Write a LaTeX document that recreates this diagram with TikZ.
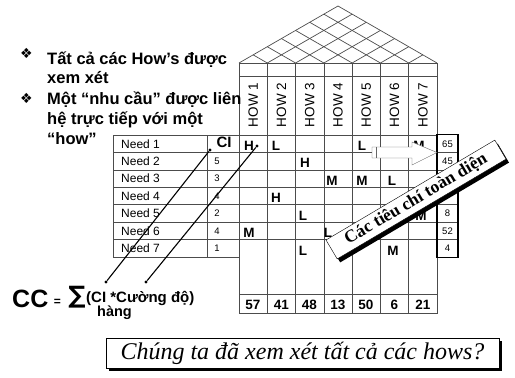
\documentclass[tikz,border=0pt]{standalone}
\usepackage{fontspec}
\setmainfont{Liberation Serif}
\setsansfont{Liberation Sans}
\newfontfamily\symfont{DejaVu Sans}
\usetikzlibrary{positioning}

\begin{document}
\begin{tikzpicture}[x = 1pt, y = -1pt,
grid/.style = {draw = black!70, line width = 0.7pt},
needtxt/.style = {font = \sffamily\fontsize{12}{12}\selectfont, anchor = west, inner sep = 0pt},
rel/.style = {font = \sffamily\bfseries\fontsize{13.5}{13.5}\selectfont, inner sep = 0pt},
howtxt/.style = {font = \sffamily\fontsize{13.5}{13.5}\selectfont, rotate = 90, inner sep = 0pt},
smallnum/.style = {font = \sffamily\fontsize{9.5}{9.5}\selectfont, inner sep = 0pt},
bultxt/.style = {font = \sffamily\bfseries\fontsize{16.5}{16.5}\selectfont, anchor = base west, inner sep = 0pt},
bulsym/.style = {font = \symfont\fontsize{14}{14}\selectfont, inner sep = 0pt},
frm/.style = {font = \sffamily\bfseries\fontsize{15}{15}\selectfont, inner sep = 0pt, anchor = base west},
dot/.style = {circle, fill = black, inner sep = 0pt, minimum size = 3.2pt}]
\useasboundingbox (0,0) rectangle (515,378);
\draw[grid] (239,63) -- (338,6) -- (437,63);
\foreach \i in {1,...,6} {
\draw[grid] (239+\i*28.286,63) -- ({(239+\i*28.286+437)/2},{63-(198-\i*28.286)/2*0.5758});
\draw[grid] (239+\i*28.286,63) -- ({(239+\i*28.286+239)/2},{63-\i*28.286/2*0.5758});
}
\draw[grid] (239,63) rectangle (437,313);
\foreach \i in {1,...,6} \draw[grid] (239+\i*28.286,63) -- (239+\i*28.286,313);
\draw[grid] (239,76) -- (437,76);
\draw[grid] (239,294) -- (437,294);
\draw[grid] (113,135) rectangle (239,257);
\draw[grid] (207,135) -- (207,257);
\foreach \r in {0,...,6} \draw[grid] (113,135+\r*17.43) -- (437,135+\r*17.43);
\foreach \r in {1,...,6} \draw[grid] (437,135+\r*17.43) -- (458,135+\r*17.43);
\draw[line width = 1.8pt] (437,134.5) rectangle (458,257.5);
\foreach \k in {1,...,7} \node[howtxt] (how\k) at (239+\k*28.286-14.143,105) {HOW \k};
\foreach \r in {1,...,7} \node[needtxt] (need\r) at (121,126.3+\r*17.43) {Need \r};
\node[font = \sffamily\bfseries\fontsize{15}{15}\selectfont, inner sep = 0pt] (ci) at (224,142) {CI};
\node[smallnum] (ci2) at (217,161) {5};
\node[smallnum] (ci3) at (217,178.5) {3};
\node[smallnum] (ci4) at (217,196) {4};
\node[smallnum] (ci5) at (217,213.5) {2};
\node[smallnum] (ci6) at (217,231) {4};
\node[smallnum] (ci7) at (217,248) {1};
\node[rel] (r1c1) at (249,146) {H};
\node[rel] (r1c2) at (276,146) {L};
\node[rel] (r1c5) at (362,146) {L};
\node[rel] (r1c7) at (419,146) {M};
\node[rel] (r2c3) at (305,163) {H};
\node[rel] (r3c4) at (332,181) {M};
\node[rel] (r3c5) at (362,181) {M};
\node[rel] (r3c6) at (392,181) {L};
\node[rel] (r4c2) at (276,198) {H};
\node[rel] (r5c3) at (303,216) {L};
\node[rel] (r5c7) at (421,216) {M};
\node[rel] (r6c1) at (249,233) {M};
\node[rel] (r6c4) at (328,233) {L};
\node[rel] (r7c3) at (303,251) {L};
\node[rel] (r7c6) at (393,251) {M};
\node[smallnum] (w1) at (447.5,144) {65};
\node[smallnum] (w2) at (447.5,161.5) {45};
\node[smallnum] (w5) at (447.5,213.5) {8};
\node[smallnum] (w6) at (447.5,231) {52};
\node[smallnum] (w7) at (447.5,248) {4};
\node[rel] (t1) at (253,305) {57};
\node[rel] (t2) at (281.5,305) {41};
\node[rel] (t3) at (309.5,305) {48};
\node[rel] (t4) at (338,305) {13};
\node[rel] (t5) at (366,305) {50};
\node[rel] (t6) at (394.5,305) {6};
\node[rel] (t7) at (423,305) {21};
\draw[draw = black!60, fill = white] (372,147) -- (412,147) -- (412,142) -- (437,152.5) -- (412,165) -- (412,158) -- (372,158) -- cycle;
\draw[draw = black!60] (376,147) -- (376,158);
\coordinate (crTL) at (326,240);
\coordinate (crTR) at (494.8,140.1);
\coordinate (crBR) at (506,159.1);
\coordinate (crBL) at (337.2,258.9);
\coordinate (crML) at (331.6,249.4);
\coordinate (crMR) at (500.4,149.6);
\fill[black] ([shift = {(3,3.5)}]crTL) -- ([shift = {(3,3.5)}]crTR) -- ([shift = {(3,3.5)}]crBR) -- ([shift = {(3,3.5)}]crBL) -- cycle;
\draw[fill = white] (crTL) -- (crTR) -- (crBR) -- (crBL) -- cycle;
\path (crML) -- (crMR) node[midway, sloped, inner sep = 0pt, font = \rmfamily\bfseries\fontsize{17.5}{17.5}\selectfont] (crit) {Các tiêu chí toàn diện};
\node[bulsym] (b1) at (26.5,53) {❖};
\node[bulsym] (b2) at (26.5,98) {❖};
\node[bultxt] (l1) at (47,64) {Tất cả các How’s được};
\node[bultxt] (l2) at (47,83) {xem xét};
\node[bultxt] (l3) at (47,104) {Một “nhu cầu” được liên};
\node[bultxt] (l4) at (47,124) {hệ trực tiếp với một};
\node[bultxt] (l5) at (47,144) {“how”};
\node[font = \sffamily\bfseries\fontsize{25}{25}\selectfont, inner sep = 0pt, anchor = base west] (cc) at (12,307) {CC};
\node[font = \sffamily\bfseries\fontsize{12}{12}\selectfont, inner sep = 0pt] (eq) at (57.5,302) {=};
\node[font = \symfont\bfseries\fontsize{24}{24}\selectfont, inner sep = 0pt] (sum) at (77,297) {∑};
\node[frm] (term) at (86,302) {(CI *Cường độ)};
\node[frm, font = \sffamily\bfseries\fontsize{14.5}{14.5}\selectfont] (row) at (97,316) {hàng};
\node[dot] (ciend) at (210,150) {};
\node[dot] (hend) at (257,146) {};
\node[dot] (fci) at (106,282) {};
\node[dot] (fint) at (146,282) {};
\draw[line width = 1.1pt] (ciend) -- (fci);
\draw[line width = 1.1pt] (hend) -- (fint);
\node[fill = black, minimum width = 393pt, minimum height = 30pt] (qshadow) at (305,355.5) {};
\node[draw, fill = white, minimum width = 393pt, minimum height = 30pt, font = \rmfamily\itshape\fontsize{24}{24}\selectfont] (q) at (302.5,353) {Chúng ta đã xem xét tất cả các hows?};
\end{tikzpicture}
\end{document}
